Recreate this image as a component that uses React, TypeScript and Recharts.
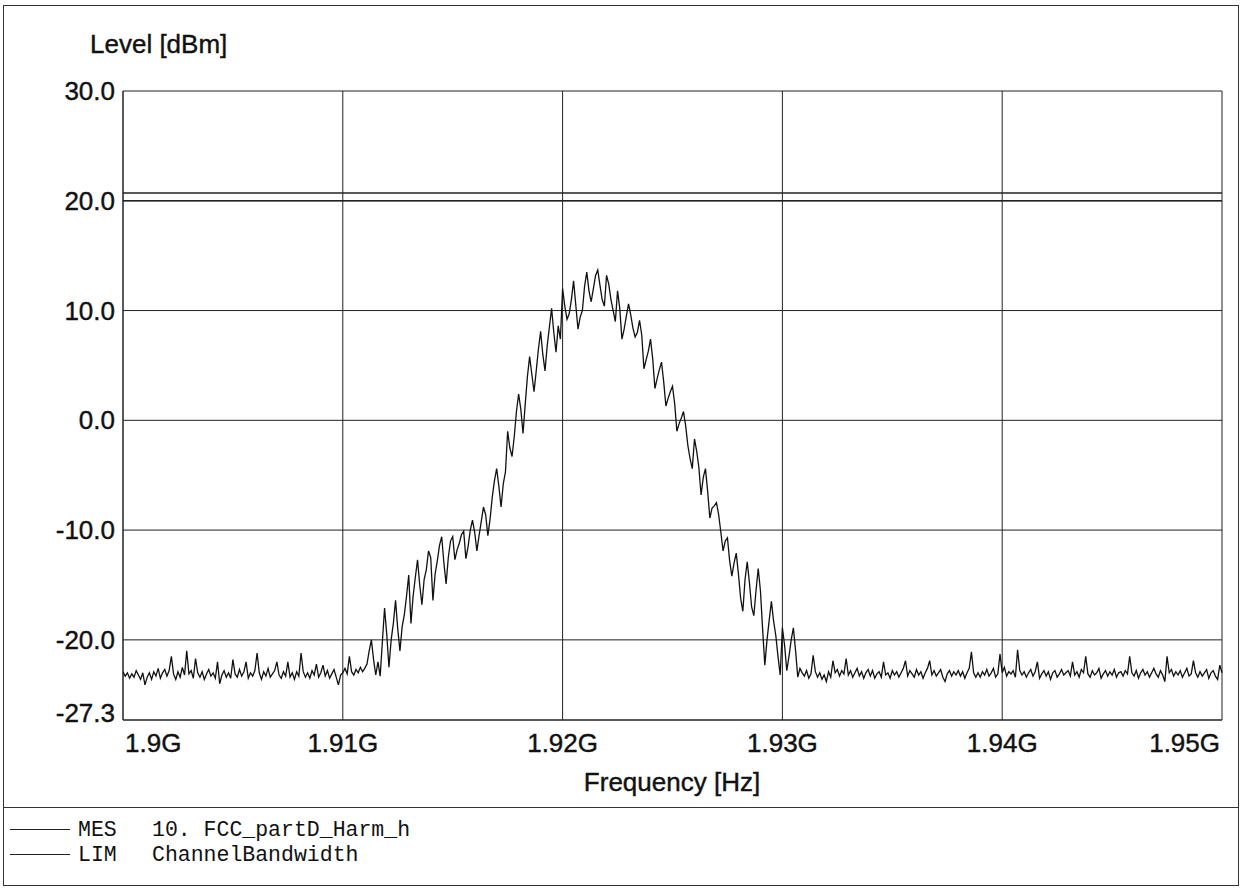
import { LineChart, Line, XAxis, YAxis, CartesianGrid, ReferenceLine } from 'recharts';

// sweep: 1900 MHz .. 1950 MHz, 0.1 MHz per point
const sweepStartMHz = 1900;
const sweepStepMHz = 0.1;

// MES trace, level in dBm, one row per MHz
const levelDbm = [
  -22.9, -23.3, -23.0, -23.5, -23.1, -23.4, -22.8, -23.2, -23.6, -23.0,
  -24.1, -23.4, -23.0, -23.6, -22.9, -23.3, -22.6, -23.5, -23.0, -22.7,
  -23.3, -22.8, -21.5, -23.1, -23.6, -22.9, -23.4, -22.5, -23.2, -21.0,
  -23.1, -22.8, -23.5, -21.7, -23.0, -23.4, -22.9, -23.6, -23.1, -22.7,
  -23.3, -23.0, -23.5, -22.0, -24.0, -23.2, -22.8, -23.4, -23.0, -23.5,
  -21.8, -23.1, -23.4, -22.7, -23.3, -22.9, -22.0, -23.5, -23.0, -23.3,
  -22.8, -21.2, -23.0, -23.6, -22.9, -23.3, -22.6, -23.4, -23.1, -22.8,
  -22.0, -23.2, -23.5, -22.9, -23.3, -22.0, -23.4, -23.0, -23.6, -22.9,
  -23.3, -21.2, -22.9, -23.4, -23.0, -23.5, -22.8, -23.2, -22.2, -23.4,
  -23.0, -22.3, -23.3, -22.8, -23.5, -23.1, -22.7, -23.4, -24.1, -23.2,
  -23.0, -22.6, -23.1, -21.5, -22.9, -23.2, -22.7, -23.0, -22.5, -22.9,
  -22.6, -22.2, -21.0, -20.0, -21.8, -23.2, -22.0, -23.3, -20.2, -17.1,
  -19.5, -22.5, -20.0, -18.5, -16.4, -19.0, -21.0, -18.8, -17.7, -16.0,
  -14.1, -18.5, -16.0, -14.3, -12.7, -15.0, -16.8, -14.5, -13.6, -11.9,
  -12.5, -16.4, -14.0, -12.8, -11.4, -10.6, -13.0, -14.9, -12.5, -11.0,
  -10.6, -12.7, -11.8, -11.2, -10.4, -10.1, -12.6, -11.5, -10.0, -9.1,
  -10.2, -11.9, -10.5, -9.2, -7.9, -8.6, -10.5, -9.0, -7.0, -5.5,
  -4.4, -6.0, -7.9, -5.8, -4.7, -1.0, -2.5, -3.3, -1.5, 0.8,
  2.4, 1.0, -1.2, 1.5, 4.0, 5.8, 4.2, 2.6, 4.5, 6.5,
  8.1, 6.0, 4.5, 6.8, 8.5, 10.2, 8.0, 6.2, 8.6, 7.4,
  12.0, 10.4, 9.2, 9.7, 11.0, 12.7, 10.5, 8.3, 9.4, 10.0,
  12.2, 13.5, 11.8, 10.8, 12.0, 13.2, 13.7, 12.3, 11.0, 10.4,
  13.2, 12.4, 11.0, 10.0, 9.0, 11.8, 10.2, 7.4, 8.3, 9.5,
  10.6, 9.6, 8.4, 7.6, 8.0, 9.1, 7.8, 4.7, 5.5, 6.3,
  7.4, 5.6, 2.9, 3.8, 4.6, 5.3, 3.5, 1.3, 2.0, 2.6,
  3.1, 1.5, -1.0, -0.3, 0.2, 0.8, -0.5, -2.3, -3.5, -4.4,
  -1.7, -2.8, -4.3, -6.8, -5.2, -4.4, -6.5, -8.9, -8.0, -7.8,
  -7.5, -8.6, -10.2, -11.9, -11.0, -10.7, -12.8, -14.2, -13.0, -12.1,
  -14.0, -16.2, -17.4, -14.5, -12.9, -14.8, -17.0, -17.8, -15.5, -13.5,
  -15.5, -19.0, -22.3, -20.0, -18.2, -16.5, -18.3, -19.6, -21.5, -23.2,
  -18.9, -20.5, -22.8, -21.5, -20.0, -18.9, -21.0, -23.4, -22.6, -23.0,
  -23.3, -22.8, -23.5, -23.1, -21.4, -22.9, -23.4, -23.0, -23.6, -23.2,
  -23.8, -22.9, -23.4, -21.9, -23.0, -22.7, -23.3, -22.8, -23.1, -21.7,
  -23.2, -22.8, -23.4, -23.0, -22.6, -23.3, -22.9, -23.5, -23.0, -22.7,
  -23.3, -22.8, -23.5, -23.1, -22.9, -23.4, -22.0, -23.2, -23.0, -23.5,
  -22.8, -23.2, -22.9, -23.4, -23.0, -22.6, -21.9, -23.3, -22.8, -23.1,
  -23.4, -22.7, -23.2, -22.9, -23.5, -23.0, -22.6, -21.9, -23.2, -22.8,
  -23.3, -23.0, -22.7, -23.4, -23.8, -23.1, -22.8, -23.3, -22.9, -23.2,
  -22.8, -23.3, -22.9, -23.5, -23.0, -22.6, -21.1, -23.0, -23.4, -23.0,
  -23.4, -22.9, -23.2, -22.7, -23.3, -23.0, -22.6, -23.4, -23.1, -21.3,
  -23.0, -22.5, -23.3, -22.9, -23.1, -22.8, -23.4, -20.9, -22.8, -23.2,
  -22.9, -23.4, -23.0, -22.7, -23.3, -22.9, -22.0, -23.5, -23.1, -22.8,
  -23.3, -22.9, -23.6, -23.0, -22.8, -23.4, -23.1, -22.7, -23.2, -23.0,
  -22.8, -23.3, -22.0, -23.2, -22.9, -23.4, -22.7, -23.0, -21.5, -23.1,
  -23.4, -22.8, -23.2, -23.0, -22.6, -23.5, -23.1, -22.8, -23.3, -22.9,
  -23.2, -22.7, -23.4, -23.0, -22.9, -23.3, -22.8, -23.1, -21.5, -23.0,
  -23.3, -22.8, -23.5, -23.0, -22.7, -23.2, -22.9, -23.4, -23.0, -22.6,
  -23.1, -23.4, -22.8, -23.2, -23.8, -21.5, -23.0, -22.7, -23.3, -22.9,
  -23.2, -22.8, -23.4, -23.0, -22.6, -23.3, -23.1, -21.9, -23.0, -23.4,
  -22.9, -23.3, -23.0, -22.7, -23.5, -23.0, -22.8, -23.3, -23.6, -22.3,
  -23.0,
];

// LIM lines (dBm)
const limitLinesDbm = [20.7, 20.0];

const xTicksMHz = [1900, 1910, 1920, 1930, 1940, 1950];
const xTickLabels = ['1.9G', '1.91G', '1.92G', '1.93G', '1.94G', '1.95G'];
const yTicks = [-27.3, -20, -10, 0, 10, 20, 30];
const yTickLabels = ['-27.3', '-20.0', '-10.0', '0.0', '10.0', '20.0', '30.0'];

const legendRows = [
  { tag: 'MES', text: '10. FCC_partD_Harm_h' },
  { tag: 'LIM', text: 'ChannelBandwidth' },
];

const data = levelDbm.map((v, i) => ({
  freq: +(sweepStartMHz + i * sweepStepMHz).toFixed(1),
  level: v,
}));

const FONT = '"Liberation Sans", Arial, sans-serif';
const INK = '#111';
const FS = 26;

function XTick(props: any) {
  const { x, y, payload } = props;
  const idx = xTicksMHz.indexOf(payload.value);
  const anchor = idx === 0 ? 'start' : idx === xTicksMHz.length - 1 ? 'end' : 'middle';
  const dx = idx === 0 ? 2 : idx === xTicksMHz.length - 1 ? -2 : 0;
  return (
    <text x={x + dx} y={y + 30} textAnchor={anchor} fontSize={FS} fontFamily={FONT} fill={INK} stroke={INK} strokeWidth={0.4}>
      {xTickLabels[idx]}
    </text>
  );
}

function YTick(props: any) {
  const { x, y, payload } = props;
  const idx = yTicks.indexOf(payload.value);
  const shift = idx === 0 ? -7 : 0;
  return (
    <text x={x - 6} y={y + 9 + shift} textAnchor="end" fontSize={FS} fontFamily={FONT} fill={INK} stroke={INK} strokeWidth={0.4}>
      {yTickLabels[idx]}
    </text>
  );
}

export default function App() {
  return (
    <div style={{ position: 'absolute', left: 0, top: 0, width: 1241, height: 889, background: '#fff', fontFamily: FONT, color: INK }}>
      {/* outer frame + legend divider */}
      <div style={{ position: 'absolute', left: 3, top: 5, width: 1234, height: 879, border: '1px solid #333' }} />
      <div style={{ position: 'absolute', left: 3, top: 807, width: 1235, height: 0, borderTop: '1px solid #333' }} />

      <div style={{ position: 'absolute', left: 90, top: 29, fontSize: FS, WebkitTextStroke: '0.4px #111' }}>Level [dBm]</div>
      <div style={{ position: 'absolute', left: 472, width: 400, top: 767, fontSize: FS, textAlign: 'center', WebkitTextStroke: '0.4px #111' }}>Frequency [Hz]</div>

      <div style={{ position: 'absolute', left: 0, top: 0 }}>
        <LineChart width={1241} height={800} data={data} margin={{ top: 91, right: 19, left: 63, bottom: 40 }}>
          <CartesianGrid stroke="#222" strokeWidth={1} />
          <XAxis
            dataKey="freq"
            type="number"
            domain={[1900, 1950]}
            ticks={xTicksMHz}
            height={40}
            tickSize={0}
            tickLine={false}
            axisLine={{ stroke: '#222' }}
            tick={<XTick />}
            interval={0}
          />
          <YAxis
            type="number"
            domain={[-27.3, 30]}
            ticks={yTicks}
            width={60}
            tickSize={0}
            tickLine={false}
            axisLine={{ stroke: '#222' }}
            tick={<YTick />}
            interval={0}
            allowDataOverflow
          />
          {limitLinesDbm.map((v) => (
            <ReferenceLine key={v} y={v} stroke="#222" strokeWidth={1.5} />
          ))}
          <Line
            type="linear"
            dataKey="level"
            stroke="#111"
            strokeWidth={1.3}
            dot={false}
            isAnimationActive={false}
          />
        </LineChart>
      </div>

      {legendRows.map((r, i) => (
        <div key={r.tag} style={{ position: 'absolute', left: 10, top: 817 + i * 25, height: 25, display: 'flex', alignItems: 'center', fontFamily: '"Liberation Mono", "Courier New", monospace', fontSize: 21.5 }}>
          <div style={{ width: 60, borderTop: '1px solid #222', marginRight: 8 }} />
          <span style={{ width: 74, whiteSpace: 'pre' }}>{r.tag}</span>
          <span style={{ whiteSpace: 'pre' }}>{r.text}</span>
        </div>
      ))}
    </div>
  );
}
